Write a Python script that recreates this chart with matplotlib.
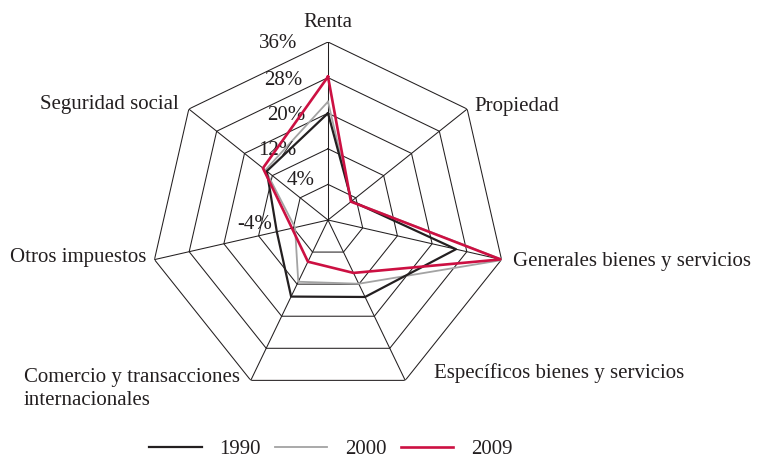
import numpy as np
import matplotlib.pyplot as plt

categories = ['Renta', 'Propiedad', 'Generales bienes y servicios',
              'Específicos bienes y servicios',
              'Comercio y transacciones\ninternacionales',
              'Otros impuestos', 'Seguridad social']
v1990 = [20.0, 2.8, 25.5, 15.2, 15.1, 7.8, 13.6]
v2000 = [22.6, 2.7, 36.3, 11.9, 11.4, 3.6, 14.0]
v2009 = [28.2, 2.6, 35.8, 9.2, 6.4, 4.3, 14.7]
ring_values = [4, 12, 20, 28, 36]
tick_labels = ['36%', '28%', '20%', '12%', '4%', '-4%']
tick_values = [36, 28, 20, 12, 4, -4]
rmin, rmax = -4, 36

txt = '#231F20'
plt.rcParams['font.family'] = ['Liberation Serif', 'DejaVu Serif']

fig = plt.figure(figsize=(7.58, 4.61), dpi=100)
ax = fig.add_axes([150 / 758, 63 / 461, 356 / 758, 356 / 461], projection='polar')
ax.set_theta_offset(np.pi / 2)
ax.set_theta_direction(-1)
ax.set_ylim(rmin, rmax)
ax.grid(False)
ax.spines['polar'].set_visible(False)
ax.set_xticks([])
ax.set_yticks([])

n = len(categories)
theta = np.arange(n) * 2 * np.pi / n
closed = np.append(theta, theta[0])

# polygon grid and spokes
for r in ring_values:
    ax.plot(closed, [r] * (n + 1), color=txt, lw=0.75, zorder=1)
for t in theta:
    ax.plot([t, t], [rmin, rmax], color=txt, lw=0.75, zorder=1)

# series
ax.plot(closed, v1990 + v1990[:1], color='#231F20', lw=1.6, label='1990', zorder=3)
ax.plot(closed, v2000 + v2000[:1], color='#A3A3A3', lw=1.3, label='2000', zorder=2)
ax.plot(closed, v2009 + v2009[:1], color='#CC1042', lw=1.9, label='2009', zorder=4)

# category labels (offsets in points from the outer vertex)
label_pos = [((0, 14), 'center', 'center'),
             ((5, 2), 'left', 'center'),
             ((8, -1.5), 'left', 'center'),
             ((21, 5), 'left', 'center'),
             ((-8, -6), 'right', 'center'),
             ((-5.5, 1.5), 'right', 'center'),
             ((-7, 3), 'right', 'center')]
for t, lab, (off, ha, va) in zip(theta, categories, label_pos):
    ax.annotate(lab, xy=(t, rmax), xytext=off, textcoords='offset points',
                ha=ha, va=va, fontsize=15, color=txt, multialignment='left',
                linespacing=1.3, annotation_clip=False)

# radial tick labels, placed like the original
tick_off = [(-36, -1), (-32, -2), (-30, -2), (-36.5, -1.5), (-19.5, 3), (-52.5, -3.5)]
for v, lab, off in zip(tick_values, tick_labels, tick_off):
    ax.annotate(lab, xy=(0, v), xytext=off, textcoords='offset points',
                ha='center', va='center', fontsize=15, color=txt,
                annotation_clip=False)

fig.legend(loc='center', bbox_to_anchor=(331 / 758, 1 - 449 / 461), ncol=3,
           frameon=False, fontsize=15, handlelength=2.5, handletextpad=0.85,
           columnspacing=0.7, labelcolor=txt, borderpad=0.2)

fig.savefig('out.png', dpi=100)
